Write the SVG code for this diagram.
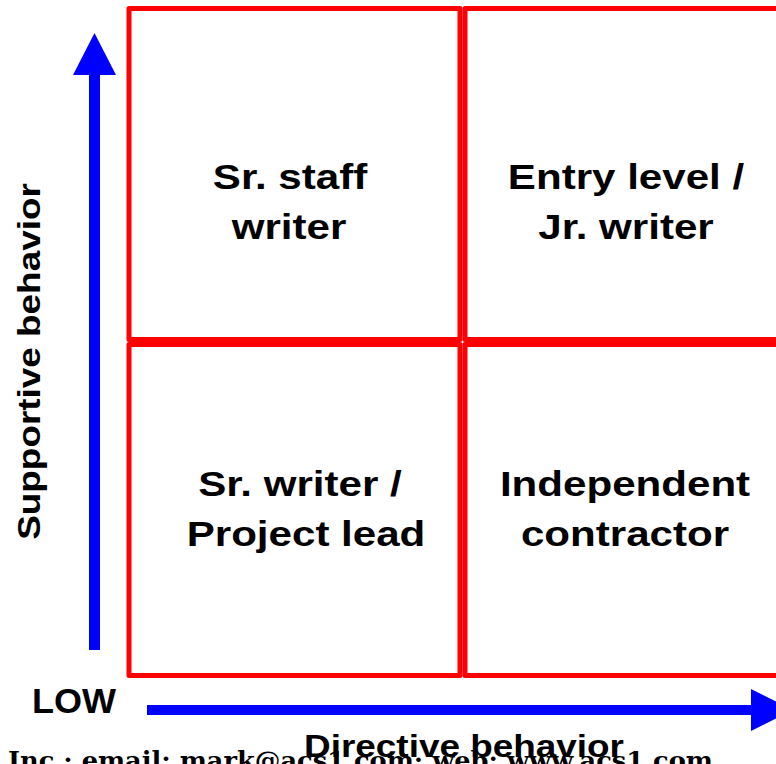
<svg xmlns="http://www.w3.org/2000/svg" width="776" height="764" viewBox="0 0 776 764">
<style>
.cell{fill:#ffffff;stroke:#ff0000;stroke-width:5;stroke-linejoin:round}
.q{font-family:"Liberation Sans",Arial,sans-serif;font-weight:bold;font-size:36px;fill:#000;text-anchor:middle}
.ax{font-family:"Liberation Sans",Arial,sans-serif;font-weight:bold;font-size:31px;fill:#000;text-anchor:middle}
.ft{font-family:"DejaVu Serif","Liberation Serif",serif;font-weight:bold;font-size:25px;fill:#000}
.arr{fill:#0000ff}
</style>
<rect width="776" height="764" fill="#ffffff"/>
<text class="ft" x="8" y="769" textLength="705" lengthAdjust="spacingAndGlyphs">Inc.; email: mark@acs1.com; web: www.acs1.com</text>
<g id="q-top-left">
<rect class="cell" x="129" y="8.5" width="331" height="331"/>
<text class="q" transform="translate(290,188.5) scale(1.17,1)">Sr. staff</text>
<text class="q" transform="translate(289,238.5) scale(1.17,1)">writer</text>
</g>
<g id="q-top-right">
<rect class="cell" x="465" y="8.5" width="340" height="331"/>
<text class="q" transform="translate(626,188.5) scale(1.17,1)">Entry level /</text>
<text class="q" transform="translate(626,238.5) scale(1.17,1)">Jr. writer</text>
</g>
<g id="q-bottom-left">
<rect class="cell" x="129" y="344.5" width="331" height="331"/>
<text class="q" transform="translate(300,495.5) scale(1.17,1)">Sr. writer /</text>
<text class="q" transform="translate(306,545.5) scale(1.17,1)">Project lead</text>
</g>
<g id="q-bottom-right">
<rect class="cell" x="465" y="344.5" width="340" height="331"/>
<text class="q" transform="translate(625,495.5) scale(1.17,1)">Independent</text>
<text class="q" transform="translate(625,545.5) scale(1.17,1)">contractor</text>
</g>
<g id="connectors">
<rect class="arr" x="89" y="74" width="11" height="576"/>
<polygon class="arr" points="73,75 116,75 94.5,33"/>
<rect class="arr" x="147" y="705" width="606" height="10"/>
<polygon class="arr" points="751,689 751,731 793,710"/>
</g>
<g id="labels">
<text class="ax" transform="translate(40,361.5) rotate(-90) scale(1.19,1)">Supportive behavior</text>
<text class="ax" transform="translate(464,757) scale(1.19,1)">Directive behavior</text>
<text class="ax" style="font-size:35px" transform="translate(74,713) scale(1.03,1)">LOW</text>
</g>
</svg>
